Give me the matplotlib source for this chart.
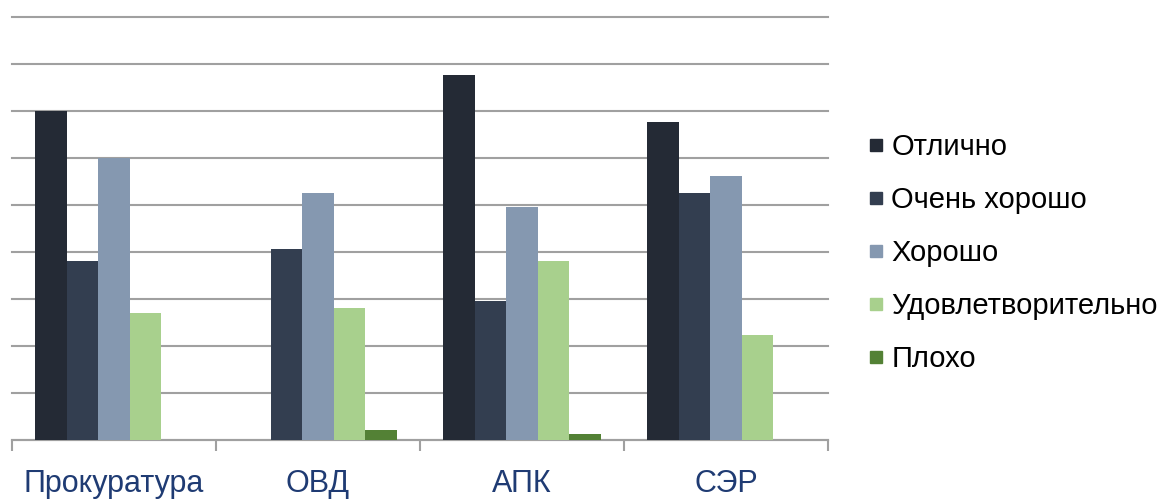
import numpy as np
import matplotlib.pyplot as plt
from matplotlib.lines import Line2D

plt.rcParams['font.family'] = ['Liberation Sans', 'DejaVu Sans']

categories = ['Прокуратура', 'ОВД', 'АПК', 'СЭР']
series = ['Отлично', 'Очень хорошо', 'Хорошо', 'Удовлетворительно', 'Плохо']
otlichno = [35.0, 0.0, 38.8, 33.8]
ochen_horosho = [19.0, 20.3, 14.8, 26.3]
horosho = [30.0, 26.3, 24.8, 28.1]
udovl = [13.5, 14.0, 19.0, 11.2]
ploho = [0.0, 1.1, 0.6, 0.0]
values = [otlichno, ochen_horosho, horosho, udovl, ploho]
colors = ['#242a35', '#333e50', '#8598b0', '#a8d08d', '#538135']

fig = plt.figure(figsize=(11.7, 5.0), dpi=100)
ax = fig.add_axes([12 / 1170, 60 / 500, 816 / 1170, 423 / 500])

x = np.arange(len(categories))
w = 0.155
for i, (vals, c) in enumerate(zip(values, colors)):
    ax.bar(x + (i - 2) * w, vals, width=w, color=c, zorder=3)

ax.set_xlim(-0.5, len(categories) - 0.5)
ax.set_ylim(0, 45)
ax.set_yticks(np.arange(0, 46, 5))
ax.yaxis.grid(True, color='#a0a0a0', linewidth=1.5, zorder=0)
for gl in ax.get_ygridlines():
    gl.set_clip_on(False)
ax.tick_params(axis='y', length=0, labelleft=False)
for s in ['top', 'right', 'left']:
    ax.spines[s].set_visible(False)
ax.spines['bottom'].set_color('#a0a0a0')
ax.spines['bottom'].set_linewidth(1.5)

ax.set_xticks(np.arange(-0.5, len(categories), 1.0))
ax.set_xticklabels([])
ax.tick_params(axis='x', which='major', length=8, width=1.5, color='#a0a0a0', direction='out')
ax.set_xticks(x, minor=True)
ax.set_xticklabels(categories, minor=True, fontsize=22, color='#1f3b73')
ax.tick_params(axis='x', which='minor', length=0, pad=21)

handles = [Line2D([], [], marker='s', linestyle='', markersize=8, color=c) for c in colors]
fig.legend(handles, series, loc='upper left', bbox_to_anchor=(868 / 1170, 1 - 133 / 500),
           frameon=False, fontsize=21, handlelength=0.55, handletextpad=0.25,
           labelspacing=0.86, borderaxespad=0, borderpad=0)

fig.savefig('out.png', dpi=100)
